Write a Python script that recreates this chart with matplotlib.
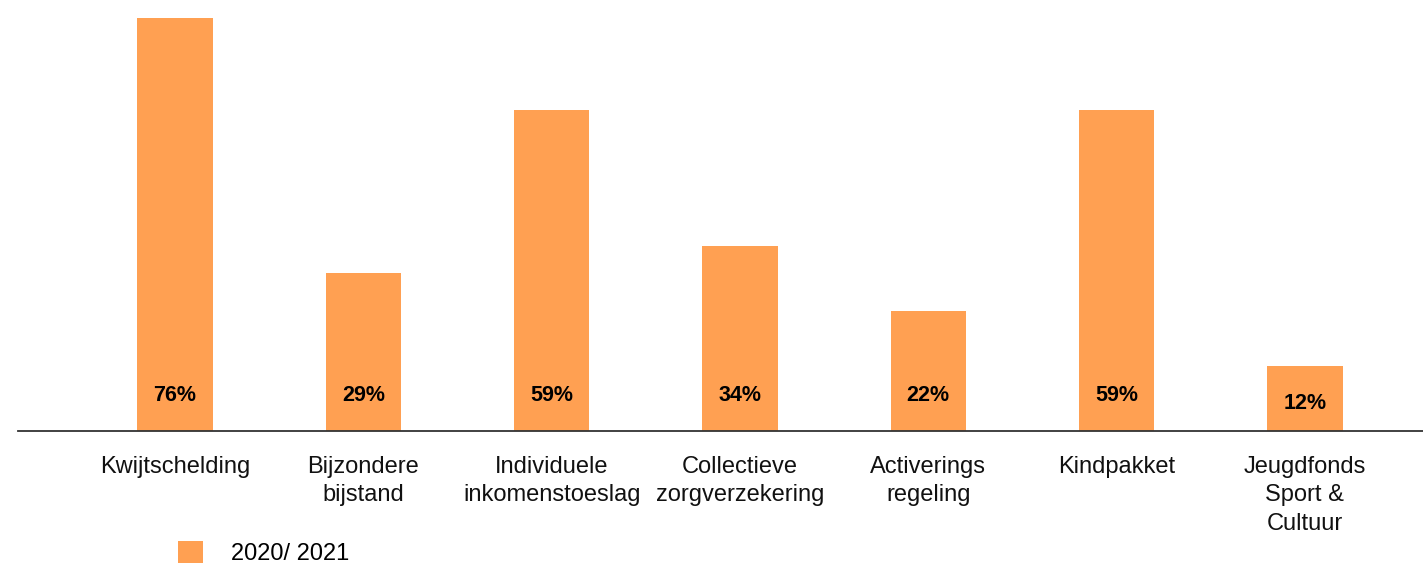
import matplotlib.pyplot as plt

plt.rcParams['font.family'] = ['Liberation Sans', 'DejaVu Sans']

# regelingen en bereik (percentages)
categories = [
    "Kwijtschelding",
    "Bijzondere\nbijstand",
    "Individuele\ninkomenstoeslag",
    "Collectieve\nzorgverzekering",
    "Activerings\nregeling",
    "Kindpakket",
    "Jeugdfonds\nSport &\nCultuur",
]
values = [76, 29, 59, 34, 22, 59, 12]
series_label = "2020/ 2021"

BAR_COLOR = "#FFA052"


def plot_chart():
    fig = plt.figure(figsize=(14.23, 5.63), dpi=100)
    # axes: baseline at y=431px, top of tallest bar at y=18px
    ax = fig.add_axes([18 / 1423, (563 - 431) / 563, 1 - 18 / 1423, 413 / 563])

    x = list(range(len(categories)))
    bars = ax.bar(x, values, width=0.4, color=BAR_COLOR, label=series_label)

    for xi, v in zip(x, values):
        ax.text(xi, min(6.5, v * 0.42), f"{v}%", ha='center', va='center',
                fontsize=15.5, fontweight='bold', color='black')

    ax.set_xlim(-0.834, 6.627)
    ax.set_ylim(0, 76)
    ax.set_yticks([])
    ax.set_xticks(x)
    ax.set_xticklabels(categories, fontsize=17, color='#111111', linespacing=1.38)
    ax.tick_params(axis='x', length=0, pad=18)
    for side in ['top', 'right', 'left']:
        ax.spines[side].set_visible(False)
    ax.spines['bottom'].set_color('#333333')
    ax.spines['bottom'].set_linewidth(1.3)

    fig.legend(handles=[bars], labels=[series_label], loc='center left',
               bbox_to_anchor=(157 / 1423, 10 / 563), frameon=False,
               fontsize=17, handlelength=1.05, handleheight=1.05, handletextpad=1.2)

    fig.savefig("out.png", dpi=100)


if __name__ == "__main__":
    plot_chart()
